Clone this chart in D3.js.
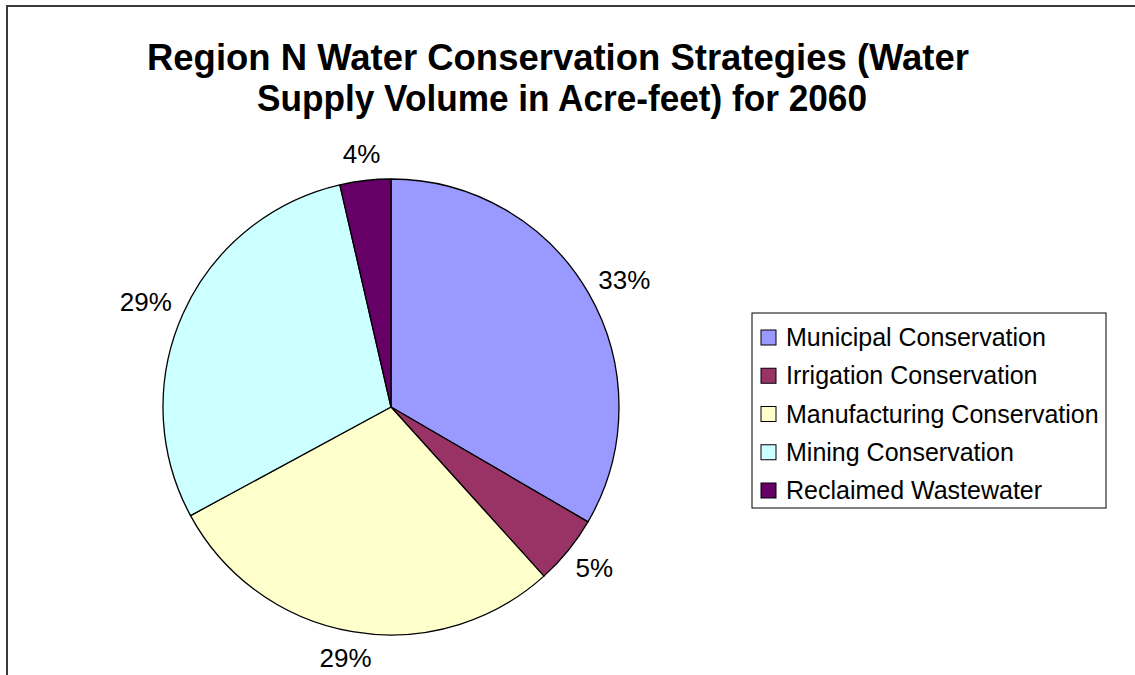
<!DOCTYPE html>
<html>
<head>
<meta charset="utf-8">
<script src="https://cdn.jsdelivr.net/npm/d3@7"></script>
<style>
  html, body { margin: 0; padding: 0; background: #fff; }
  svg { display: block; }
  text { font-family: "Liberation Sans", Arial, sans-serif; fill: #000; }
</style>
</head>
<body>
<svg id="chart" width="1135" height="675"></svg>
<script>
// ---- data ----
const categories = ["Municipal Conservation", "Irrigation Conservation", "Manufacturing Conservation", "Mining Conservation", "Reclaimed Wastewater"];
const values = [33.4, 4.9, 28.8, 29.3, 3.6];
const colors = ["#9999FF", "#993366", "#FFFFCC", "#CCFFFF", "#660066"];
const titleLines = ["Region N Water Conservation Strategies (Water", "Supply Volume in Acre-feet) for 2060"];

const W = 1135, H = 675;
const svg = d3.select("#chart");

// chart area border
svg.append("path")
  .attr("d", `M7,${H + 5} L7,6 L${W + 5},6`)
  .attr("fill", "none").attr("stroke", "#3a3a3a").attr("stroke-width", 2);

// title
const titleCx = [558, 562];
const titleWidths = [822, 610];
titleLines.forEach((t, i) => {
  svg.append("text")
    .attr("x", titleCx[i]).attr("y", 70 + i * 41)
    .attr("text-anchor", "middle")
    .attr("font-size", 37).attr("font-weight", "bold")
    .attr("textLength", titleWidths[i]).attr("lengthAdjust", "spacingAndGlyphs")
    .text(t);
});

// pie
const cx = 391, cy = 407, R = 228;
const total = d3.sum(values);
const pie = d3.pie().sort(null).value(d => d)(values);
const arc = d3.arc().innerRadius(0).outerRadius(R);
const g = svg.append("g").attr("transform", `translate(${cx},${cy})`);
g.selectAll("path.slice").data(pie).join("path")
  .attr("class", "slice")
  .attr("d", arc)
  .attr("fill", (d, i) => colors[i])
  .attr("stroke", "#000").attr("stroke-width", 1.3).attr("stroke-linejoin", "round");

// labels
const fmt = v => Math.round(v / total * 100) + "%";
const gap = 15, fs = 26;
pie.forEach((d, i) => {
  const a = (d.startAngle + d.endAngle) / 2;
  const ux = Math.sin(a), uy = -Math.cos(a);
  const txt = g.append("text").attr("font-size", fs).text(fmt(d.value));
  const w = txt.node().getComputedTextLength();
  const h = fs * 0.9;
  const lx = (R + gap) * ux + ux * w / 2;
  const ly = (R + gap) * uy + uy * h / 2;
  txt.attr("x", lx).attr("y", ly).attr("text-anchor", "middle").attr("dy", "0.35em");
});

// legend
const lgX = 752, lgY = 313, lgW = 354, lgH = 195;
svg.append("rect").attr("x", lgX).attr("y", lgY).attr("width", lgW).attr("height", lgH)
  .attr("fill", "#fff").attr("stroke", "#000").attr("stroke-width", 1);
const rowY = d3.scalePoint().domain(categories).range([lgY + 24, lgY + lgH - 18]);
categories.forEach((c, i) => {
  const y = rowY(c);
  svg.append("rect").attr("x", lgX + 9).attr("y", y - 7).attr("width", 15).attr("height", 15)
    .attr("fill", colors[i]).attr("stroke", "#000").attr("stroke-width", 1);
  svg.append("text").attr("x", lgX + 34).attr("y", y).attr("dy", "0.36em")
    .attr("font-size", 25).text(c);
});
</script>
</body>
</html>
